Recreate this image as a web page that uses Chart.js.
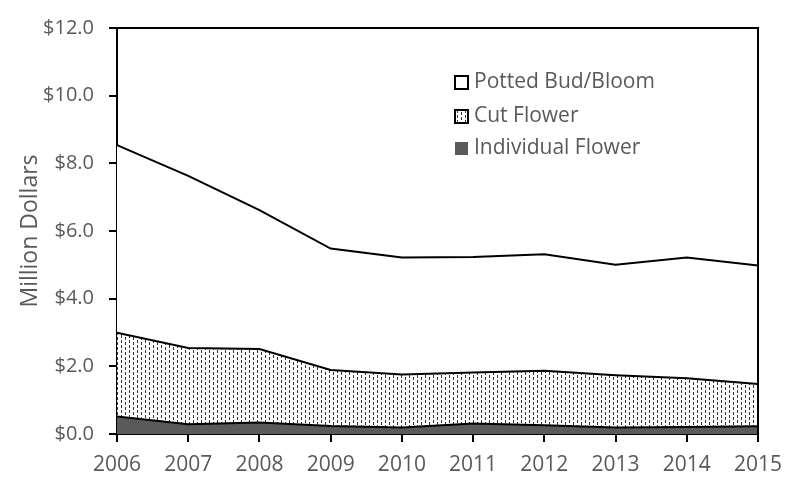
<!DOCTYPE html>
<html>
<head>
<meta charset="utf-8">
<script src="https://cdn.jsdelivr.net/npm/chart.js@4/dist/chart.umd.min.js"></script>
<style>
  html, body { margin: 0; padding: 0; background: #fff; }
  canvas { display: block; }
</style>
</head>
<body>
<canvas id="myChart" width="799" height="479"></canvas>
<script>
// data (million dollars)
const years = ['2006', '2007', '2008', '2009', '2010', '2011', '2012', '2013', '2014', '2015'];
const individualFlower = [0.52, 0.29, 0.34, 0.24, 0.19, 0.31, 0.26, 0.19, 0.21, 0.23];
const cutFlower = [2.47, 2.25, 2.17, 1.65, 1.57, 1.51, 1.61, 1.55, 1.44, 1.25];
const pottedBudBloom = [5.55, 5.09, 4.11, 3.59, 3.46, 3.41, 3.44, 3.26, 3.57, 3.50];
const yTicks = [0, 2, 4, 6, 8, 10, 12];

const textGray = '#595959';
const fontFam = '"Open Sans", sans-serif';

// dotted fill for the cut flower band (short vertical dashes)
function dotPattern() {
    const c = document.createElement('canvas');
    c.width = 8;
    c.height = 10;
    const g = c.getContext('2d');
    g.fillStyle = '#fff';
    g.fillRect(0, 0, 8, 10);
    g.fillStyle = '#333';
    g.fillRect(1, 0, 1, 3);
    g.fillRect(1, 5, 1, 3);
    g.fillRect(5, 2, 1, 3);
    g.fillRect(5, 7, 1, 3);
    return g.createPattern(c, 'repeat');
}

const canvas_ = document.getElementById('myChart');
const ctx_ = canvas_.getContext('2d');
const dots = dotPattern();

// top + right frame, outward tick marks and the legend box
const framePlugin = {
    id: 'frame',
    afterDraw(chart) {
        const a = chart.chartArea;
        const c = chart.ctx;
        c.save();
        c.strokeStyle = '#000';
        c.lineWidth = 2;
        c.beginPath();
        c.moveTo(a.left, a.top);
        c.lineTo(a.right, a.top);
        c.lineTo(a.right, a.bottom);
        c.stroke();

        // tick marks
        const sx = chart.scales.x, sy = chart.scales.y;
        c.fillStyle = '#000';
        yTicks.forEach(function (v) {
            const y = Math.round(sy.getPixelForValue(v));
            c.fillRect(a.left - 8, y - 1, 8, 2);
        });
        years.forEach(function (lab, i) {
            const x = Math.round(sx.getPixelForValue(i));
            c.fillRect(x - 1, a.bottom, 2, 8);
        });

        // legend, top item first
        const ds = chart.data.datasets.slice().reverse();
        const rows = [82, 116, 148];
        c.font = '21px ' + fontFam;
        c.textBaseline = 'middle';
        c.textAlign = 'left';
        ds.forEach(function (d, i) {
            const y = rows[i];
            c.fillStyle = d.backgroundColor;
            c.fillRect(455, y - 6, 13, 13);
            if (d.legendStroke) {
                c.strokeStyle = '#000';
                c.lineWidth = 2;
                c.strokeRect(455, y - 6, 13, 13);
            }
            c.fillStyle = textGray;
            c.fillText(d.label, 474, y);
        });
        c.restore();
    }
};

const myChart = new Chart(ctx_, {
    type: 'line',
    data: {
        labels: years,
        datasets: [
            {
                label: 'Individual Flower',
                data: individualFlower,
                backgroundColor: '#5a5a5a',
                borderColor: '#000',
                borderWidth: 2,
                fill: 'origin',
                pointRadius: 0,
                tension: 0,
                legendStroke: false
            },
            {
                label: 'Cut Flower',
                data: cutFlower,
                backgroundColor: dots,
                borderColor: '#000',
                borderWidth: 2,
                fill: '-1',
                pointRadius: 0,
                tension: 0,
                legendStroke: true
            },
            {
                label: 'Potted Bud/Bloom',
                data: pottedBudBloom,
                backgroundColor: '#fff',
                borderColor: '#000',
                borderWidth: 2,
                fill: '-1',
                pointRadius: 0,
                tension: 0,
                legendStroke: true
            }
        ]
    },
    options: {
        responsive: false,
        animation: false,
        layout: { padding: { left: 0, right: 41, top: 16, bottom: 0 } },
        plugins: {
            legend: { display: false },
            tooltip: { enabled: false }
        },
        scales: {
            x: {
                offset: false,
                grid: { drawOnChartArea: false, drawTicks: true, tickLength: 7, color: '#000', lineWidth: 2 },
                border: { color: '#000', width: 2 },
                ticks: { color: textGray, font: { family: fontFam, size: 21 }, padding: 11, maxRotation: 0 },
                afterFit(scale) { scale.height = 45; }
            },
            y: {
                stacked: true,
                min: 0,
                max: 12,
                grid: { drawOnChartArea: false, drawTicks: true, tickLength: 7, color: '#000', lineWidth: 2 },
                border: { color: '#000', width: 2 },
                ticks: {
                    stepSize: 2,
                    color: textGray,
                    padding: 16,
                    font: { family: fontFam, size: 20 },
                    callback: function (v) { return '$' + v.toFixed(1); }
                },
                title: {
                    display: true,
                    text: 'Million Dollars',
                    color: textGray,
                    font: { family: fontFam, size: 23 },
                    padding: { top: 17, bottom: 0 }
                },
                afterFit(scale) { scale.width = 117; }
            }
        }
    },
    plugins: [framePlugin]
});
</script>
</body>
</html>
